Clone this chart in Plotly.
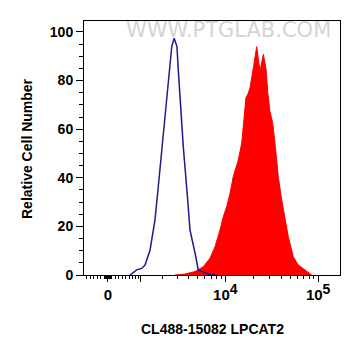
import numpy as np
import plotly.graph_objects as go

# ---- data (fluorescence intensity, relative cell number) ----
blue_x = [629, 849, 1027, 1157, 1365, 1587, 1751, 1929, 2117, 2322, 2553, 2723,
          2933, 3037, 3368, 3462, 3869, 4114, 4690, 5083, 6538, 7734]
blue_y = [0, 2.1, 2.7, 4.1, 10.3, 22.6, 36.3, 50.1, 63.8, 80.2, 94, 97.4,
          94, 84.4, 60, 52.8, 31.5, 18.5, 8.9, 2.1, 0.4, 0]

red_x = [2783, 3618, 4675, 5767, 6826, 7734, 8763, 9516, 10432, 11242,
         12203, 13816, 15036, 15718, 16315, 16722, 17578, 18470, 20042, 21813,
         23672, 25685, 27467, 28644, 30316, 32417, 34320, 37235, 40513, 43956,
         47696, 53988, 61105, 72105, 85140]
red_y = [0, 0.4, 1.4, 3.4, 6.9, 11.6, 18.5, 24, 28.5, 33.6,
         40.5, 47.3, 54.2, 62, 68, 73, 74.5, 77, 85, 94,
         83.7, 90.8, 85, 75.4, 67.2, 62.5, 54.2, 40.5, 30.9, 22.6,
         15.8, 7.5, 4.1, 2.1, 0]

labeled_ticks = [0, 10000, 100000]
labeled_text = ["0",
                "10<sup><span style='font-size:14px'>4</span></sup>",
                "10<sup><span style='font-size:14px'>5</span></sup>"]
unlabeled_major = [1000]
y_ticks = [0, 20, 40, 60, 80, 100]

# ---- biexponential-like display scale ----
C = 1100.0
def T(v):
    return np.arcsinh(np.asarray(v, dtype=float) / C)

x_min, x_max = -692, 171600

minor_ticks = ([-600, -500, -400, -300, -200, -100]
               + list(range(-80, 81, 20))
               + [100, 200, 300, 400, 500, 600, 700, 800, 900]
               + [m * 1000 for m in range(2, 10)]
               + [m * 10000 for m in range(2, 10)])

fig = go.Figure()
fig.add_trace(go.Scatter(x=T(red_x), y=red_y, mode="lines", fill="tozeroy",
                         line=dict(color="#ff0000", width=1), fillcolor="#ff0000",
                         hoverinfo="skip", showlegend=False))
fig.add_trace(go.Scatter(x=T(blue_x), y=blue_y, mode="lines",
                         line=dict(color="#1c1c8c", width=1.5),
                         hoverinfo="skip", showlegend=False))

ytickfont = dict(family="Liberation Sans, Arial, sans-serif", size=14, color="black", weight="bold")
xtickfont = dict(family="Liberation Sans, Arial, sans-serif", size=15, color="black", weight="bold")
rng = [float(T(x_min)), float(T(x_max))]

fig.update_layout(
    width=353, height=348,
    margin=dict(l=76, r=21, t=13, b=81),
    paper_bgcolor="white", plot_bgcolor="white",
    xaxis=dict(range=rng, tickmode="array", tickvals=T(labeled_ticks).tolist(),
               ticktext=labeled_text, ticks="outside", ticklen=6, tickwidth=1,
               tickcolor="black", showline=True, mirror=True, linecolor="black",
               linewidth=1, showgrid=False, zeroline=False, tickfont=xtickfont),
    xaxis2=dict(range=rng, overlaying="x", anchor="y", side="bottom",
                tickmode="array", tickvals=T(minor_ticks).tolist(),
                showticklabels=False, ticks="outside", ticklen=3, tickwidth=1,
                tickcolor="black", showline=False, showgrid=False, zeroline=False),
    xaxis3=dict(range=rng, overlaying="x", anchor="y", side="bottom",
                tickmode="array", tickvals=T(unlabeled_major).tolist(),
                showticklabels=False, ticks="outside", ticklen=6, tickwidth=1,
                tickcolor="black", showline=False, showgrid=False, zeroline=False),
    yaxis=dict(range=[0, 104.5], tickmode="array", tickvals=y_ticks,
               ticks="outside", ticklen=7, tickwidth=1, tickcolor="black",
               minor=dict(dtick=5, ticklen=4, ticks="outside", tickcolor="black", showgrid=False),
               showline=True, mirror=True, linecolor="black", linewidth=1,
               showgrid=False, zeroline=False, tickfont=ytickfont),
)
# invisible traces so the overlay tick axes render
for ax in ("x2", "x3"):
    fig.add_trace(go.Scatter(x=[rng[0]], y=[0], xaxis=ax, mode="markers",
                             marker=dict(opacity=0), hoverinfo="skip", showlegend=False))

fig.add_annotation(text="WWW.PTGLAB.COM", xref="paper", yref="paper", x=0.566, y=0.9626,
                   showarrow=False, xanchor="center", yanchor="middle",
                   font=dict(family="DejaVu Sans, sans-serif", size=21, color="#d4d4d4"))
fig.add_annotation(text="<b>CL488-15082 LPCAT2</b>", xref="paper", yref="paper",
                   x=0.5, y=-0.2126, showarrow=False, xanchor="center", yanchor="middle",
                   font=dict(family="Liberation Sans, Arial, sans-serif", size=14, color="black"))
fig.add_annotation(text="<b>Relative Cell Number</b>", xref="paper", yref="paper",
                   x=-0.2227, y=0.5, showarrow=False, xanchor="center", yanchor="middle",
                   textangle=-90,
                   font=dict(family="Liberation Sans, Arial, sans-serif", size=14, color="black"))

fig.write_html("out.html")
